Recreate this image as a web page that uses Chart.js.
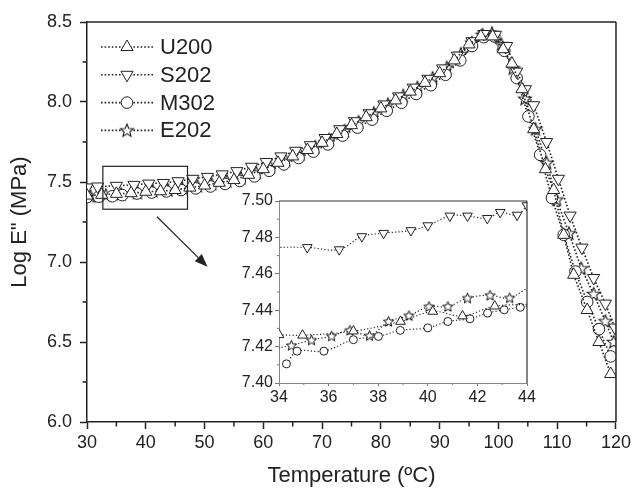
<!DOCTYPE html>
<html><head><meta charset="utf-8">
<script src="https://cdn.jsdelivr.net/npm/chart.js@4.4.0/dist/chart.umd.min.js"></script>
<style>
html,body{margin:0;padding:0;background:#fff;}
#wrap{position:relative;width:634px;height:489px;overflow:hidden;}
#main{position:absolute;left:0;top:0;}
#inset{position:absolute;left:220px;top:185px;}
</style></head><body>
<div id="wrap"><canvas id="main" width="634" height="489"></canvas><canvas id="inset" width="320" height="230"></canvas></div>
<script>
// ---------- data ----------
const seriesNames = ['U200', 'S202', 'M302', 'E202'];

const u200T = [30, 32.5, 35, 37.5, 40, 42.5, 45, 47.5, 50, 52.5, 55, 57.5, 60, 62.5, 65, 67.5, 70, 72.5, 75, 77.5, 80, 82.5, 85, 87.5, 90, 92.5, 95, 97, 99, 100.8, 102.3, 104, 106, 108, 109.4, 111.1, 112.8, 115.1, 117.1, 119.1];
const u200E = [7.415, 7.42, 7.426, 7.43, 7.439, 7.442, 7.45, 7.465, 7.478, 7.495, 7.512, 7.545, 7.58, 7.62, 7.66, 7.70, 7.745, 7.80, 7.855, 7.905, 7.96, 8.01, 8.065, 8.12, 8.18, 8.26, 8.36, 8.41, 8.41, 8.33, 8.24, 8.08, 7.83, 7.58, 7.45, 7.17, 6.92, 6.70, 6.50, 6.30];

const s202T = [30, 31.8, 35, 38, 40.5, 43, 45.5, 48, 50.5, 53, 55.5, 58, 60.5, 63, 65.5, 68, 70.5, 73, 75.5, 78, 80.5, 83, 85.5, 88, 90.5, 93, 95.5, 97.5, 99.5, 101.4, 103.1, 104.6, 106, 108.2, 110.2, 112.2, 114.2, 116.2, 118.2, 119.8];
const s202E = [7.466, 7.472, 7.476, 7.482, 7.49, 7.494, 7.505, 7.52, 7.532, 7.548, 7.568, 7.595, 7.625, 7.66, 7.695, 7.73, 7.775, 7.83, 7.88, 7.93, 7.985, 8.035, 8.09, 8.145, 8.21, 8.29, 8.38, 8.425, 8.42, 8.35, 8.19, 8.08, 7.98, 7.75, 7.52, 7.29, 7.09, 6.90, 6.74, 6.59];

const m302T = [30, 32, 34.3, 36, 38.5, 41, 43.5, 46, 48.5, 51, 53.5, 56, 58.5, 61, 63.5, 66, 68.5, 71, 73.5, 76, 78.5, 81, 83.5, 86, 88.5, 91, 93.5, 95.5, 97.5, 99.3, 101, 103.1, 105.1, 107.1, 109.1, 111.1, 113.1, 115.1, 117.1, 119.1];
const m302E = [7.405, 7.408, 7.411, 7.418, 7.428, 7.434, 7.441, 7.45, 7.46, 7.472, 7.488, 7.507, 7.535, 7.57, 7.61, 7.65, 7.69, 7.735, 7.79, 7.84, 7.89, 7.945, 7.995, 8.05, 8.105, 8.17, 8.26, 8.35, 8.405, 8.41, 8.32, 8.15, 7.91, 7.67, 7.40, 7.17, 6.94, 6.75, 6.58, 6.41];

const e202T = [30.6, 33.2, 35.8, 38.6, 41.2, 43.8, 46.2, 48.8, 51.2, 53.8, 56.2, 58.8, 61.2, 63.8, 66.2, 68.8, 71.2, 73.8, 76.2, 78.8, 81.2, 83.8, 86.2, 88.8, 91.2, 93.6, 95.5, 97.3, 98.9, 100.5, 102.5, 104.5, 106.3, 108.2, 109.9, 112, 114.1, 116.2, 118.2, 119.6];
const e202E = [7.41, 7.418, 7.424, 7.433, 7.444, 7.449, 7.462, 7.475, 7.488, 7.505, 7.525, 7.558, 7.595, 7.635, 7.675, 7.72, 7.765, 7.82, 7.875, 7.93, 7.985, 8.04, 8.09, 8.15, 8.215, 8.30, 8.37, 8.42, 8.43, 8.36, 8.21, 8.02, 7.83, 7.62, 7.39, 7.18, 6.96, 6.80, 6.63, 6.50];

// inset (34–44 °C)
const inU200T = [34.0, 34.95, 37.0, 38.9, 40.2, 41.4, 42.7, 44.4];
const inU200E = [7.4265, 7.4262, 7.4285, 7.4338, 7.4393, 7.4368, 7.4422, 7.4432];
const inS202T = [33.5, 35.14, 36.43, 37.34, 38.22, 39.32, 40.0, 40.89, 41.6, 42.4, 42.92, 43.6, 44.0];
const inS202E = [7.4745, 7.4745, 7.4733, 7.4805, 7.4823, 7.4838, 7.4865, 7.4918, 7.4918, 7.4905, 7.4938, 7.4923, 7.4975];
const inM302T = [34.3, 34.73, 35.81, 37.0, 38.01, 38.89, 40.0, 40.81, 41.7, 42.41, 43.08, 43.73, 44.4];
const inM302E = [7.4105, 7.4175, 7.4175, 7.4238, 7.4256, 7.4289, 7.4303, 7.4338, 7.4353, 7.4384, 7.4402, 7.4416, 7.4430];
const inE202T = [33.7, 34.5, 35.31, 36.12, 36.86, 37.65, 38.42, 39.24, 40.05, 40.81, 41.6, 42.51, 43.3, 44.4];
const inE202E = [7.4185, 7.4207, 7.4236, 7.4258, 7.429, 7.426, 7.4338, 7.437, 7.442, 7.442, 7.4467, 7.4482, 7.4468, 7.4560];

// ticks
const xTicks = [30, 40, 50, 60, 70, 80, 90, 100, 110, 120];
const xMinor = [35, 45, 55, 65, 75, 85, 95, 105, 115];
const yTicks = [6.0, 6.5, 7.0, 7.5, 8.0, 8.5];
const yMinor = [6.25, 6.75, 7.25, 7.75, 8.25];
const inXTicks = [34, 36, 38, 40, 42, 44];
const inXMinor = [35, 37, 39, 41, 43];
const inYTicks = [7.40, 7.42, 7.44, 7.46, 7.48, 7.50];
const inYMinor = [7.41, 7.43, 7.45, 7.47, 7.49];

// zoom box [xMin, xMax, yMin, yMax] and arrow [x0, y0, x1, y1] in data units
const zoomBox = [32.7, 47.1, 7.33, 7.598];
const arrowPts = [41.9, 7.283, 50.5, 6.97];

// ---------- styling ----------
const ink = '#222';
const FONT = '"Liberation Sans", Arial, Helvetica, sans-serif';
Chart.defaults.font.family = FONT;
Chart.defaults.color = ink;

function makeStar(R, r, lw) {
  const s = Math.ceil(2 * R + 2 * lw + 2);
  const c = document.createElement('canvas');
  c.width = s; c.height = s;
  const g = c.getContext('2d');
  g.translate(s / 2, s / 2 + 0.4);
  g.beginPath();
  for (let i = 0; i < 10; i++) {
    const rad = (i % 2 === 0) ? R : r;
    const a = -Math.PI / 2 + i * Math.PI / 5;
    const px = rad * Math.cos(a), py = rad * Math.sin(a);
    if (i === 0) g.moveTo(px, py); else g.lineTo(px, py);
  }
  g.closePath();
  g.fillStyle = '#fff'; g.fill();
  g.strokeStyle = '#111'; g.lineWidth = lw; g.stroke();
  return c;
}
const starMain = makeStar(6.8, 3.0, 1.05);
const starInset = makeStar(5.4, 2.4, 1.0);

const zip = (xs, ys) => xs.map((x, i) => ({x, y: ys[i]}));

function ds(label, xs, ys, style, radius, rot, lw, dash, tension) {
  return {
    label, data: zip(xs, ys),
    borderColor: ink, borderWidth: lw, borderDash: dash, tension: tension,
    pointStyle: style, pointRadius: radius, pointRotation: rot,
    pointBackgroundColor: '#fff', pointBorderColor: ink, pointBorderWidth: 1,
    clip: 0, fill: false
  };
}

// ---------- plugins ----------
function line(ctx, x0, y0, x1, y1) { ctx.beginPath(); ctx.moveTo(x0, y0); ctx.lineTo(x1, y1); ctx.stroke(); }

const mainDecor = {
  id: 'mainDecor',
  afterDraw(chart) {
    const {ctx, chartArea: a, scales: {x, y}} = chart;
    ctx.save();
    ctx.strokeStyle = ink; ctx.lineWidth = 1.5;
    // frame top & right
    line(ctx, a.left, a.top, a.right, a.top);
    line(ctx, a.right, a.top, a.right, a.bottom);
    // minor ticks
    xMinor.forEach(v => { const p = x.getPixelForValue(v); line(ctx, p, a.bottom, p, a.bottom + 4.5); });
    yMinor.forEach(v => { const p = y.getPixelForValue(v); line(ctx, a.left - 4.5, p, a.left, p); });
    // zoom box
    ctx.lineWidth = 1.2;
    const bx0 = x.getPixelForValue(zoomBox[0]), bx1 = x.getPixelForValue(zoomBox[1]);
    const by0 = y.getPixelForValue(zoomBox[3]), by1 = y.getPixelForValue(zoomBox[2]);
    ctx.strokeRect(bx0, by0, bx1 - bx0, by1 - by0);
    // arrow
    const ax0 = x.getPixelForValue(arrowPts[0]), ay0 = y.getPixelForValue(arrowPts[1]);
    const ax1 = x.getPixelForValue(arrowPts[2]), ay1 = y.getPixelForValue(arrowPts[3]);
    const ang = Math.atan2(ay1 - ay0, ax1 - ax0);
    const hl = 13, hw = 5;
    const bxh = ax1 - hl * Math.cos(ang), byh = ay1 - hl * Math.sin(ang);
    line(ctx, ax0, ay0, bxh, byh);
    ctx.fillStyle = ink;
    ctx.beginPath();
    ctx.moveTo(ax1, ay1);
    ctx.lineTo(bxh + hw * Math.sin(ang), byh - hw * Math.cos(ang));
    ctx.lineTo(bxh - hw * Math.sin(ang), byh + hw * Math.cos(ang));
    ctx.closePath(); ctx.fill();
    // legend
    chart.data.datasets.forEach((d, i) => {
      const ly = a.top + 25 + i * 27.8;
      ctx.strokeStyle = ink; ctx.lineWidth = 1.6; ctx.setLineDash([1.6, 2]);
      line(ctx, a.left + 14, ly, a.left + 66, ly);
      ctx.setLineDash([]);
      ctx.fillStyle = '#fff'; ctx.strokeStyle = ink; ctx.lineWidth = 1;
      Chart.helpers.drawPoint(ctx, {pointStyle: d.pointStyle, radius: d.pointRadius, rotation: d.pointRotation || 0, borderWidth: 1}, a.left + 40, ly);
      ctx.fillStyle = ink; ctx.font = '22px ' + FONT; ctx.textBaseline = 'middle'; ctx.textAlign = 'left';
      ctx.fillText(d.label, a.left + 73, ly + 1);
    });
    ctx.restore();
  }
};

const insetDecor = {
  id: 'insetDecor',
  afterDraw(chart) {
    const {ctx, chartArea: a, scales: {x, y}} = chart;
    ctx.save();
    ctx.strokeStyle = '#333'; ctx.lineWidth = 1.2;
    line(ctx, a.left, a.top, a.right, a.top);
    line(ctx, a.right, a.top, a.right, a.bottom);
    ctx.strokeStyle = '#777'; ctx.lineWidth = 1;
    inXMinor.forEach(v => { const p = x.getPixelForValue(v); line(ctx, p, a.bottom, p, a.bottom + 2); });
    inYMinor.forEach(v => { const p = y.getPixelForValue(v); line(ctx, a.left - 2, p, a.left, p); });
    ctx.restore();
  }
};

// ---------- main chart ----------
const mainDash = [1.6, 2];
new Chart(document.getElementById('main'), {
  type: 'line',
  data: {
    datasets: [
      ds(seriesNames[0], u200T, u200E, 'triangle', 7, 0, 1.6, mainDash, 0),
      ds(seriesNames[1], s202T, s202E, 'triangle', 7, 180, 1.6, mainDash, 0),
      ds(seriesNames[2], m302T, m302E, 'circle', 5.8, 0, 1.6, mainDash, 0),
      ds(seriesNames[3], e202T, e202E, starMain, 6, 0, 1.6, mainDash, 0)
    ]
  },
  options: {
    responsive: false, animation: false, devicePixelRatio: 1,
    layout: {padding: {top: 22, right: 18, left: 0, bottom: 0}},
    plugins: {legend: {display: false}, tooltip: {enabled: false}},
    scales: {
      x: {
        type: 'linear', min: 30, max: 120,
        afterBuildTicks: s => { s.ticks = xTicks.map(v => ({value: v})); },
        afterFit: s => { s.height = 67; },
        ticks: {font: {size: 18}, color: ink, padding: 3, maxRotation: 0, callback: v => String(v)},
        grid: {drawOnChartArea: false, drawTicks: true, tickLength: 7, tickColor: ink, tickWidth: 1.5},
        border: {display: true, color: ink, width: 1.5},
        title: {display: true, text: 'Temperature (ºC)', font: {size: 22}, color: ink, padding: {top: 0, bottom: 0}}
      },
      y: {
        type: 'linear', min: 6.0, max: 8.5,
        afterBuildTicks: s => { s.ticks = yTicks.map(v => ({value: v})); },
        afterFit: s => { s.width = 87; },
        ticks: {font: {size: 18}, color: ink, padding: 8, callback: v => v.toFixed(1)},
        grid: {drawOnChartArea: false, drawTicks: true, tickLength: 7, tickColor: ink, tickWidth: 1.5},
        border: {display: true, color: ink, width: 1.5},
        title: {display: true, text: 'Log E" (MPa)', font: {size: 22}, color: ink, padding: {top: 7, bottom: 0}}
      }
    }
  },
  plugins: [mainDecor]
});

// ---------- inset chart ----------
const inDash = [1.2, 2.2];
new Chart(document.getElementById('inset'), {
  type: 'line',
  data: {
    datasets: [
      ds(seriesNames[0], inU200T, inU200E, 'triangle', 5.6, 0, 1.2, inDash, 0.35),
      ds(seriesNames[1], inS202T, inS202E, 'triangle', 5.6, 180, 1.2, inDash, 0.35),
      ds(seriesNames[2], inM302T, inM302E, 'circle', 4, 0, 1.2, inDash, 0.35),
      ds(seriesNames[3], inE202T, inE202E, starInset, 5, 0, 1.2, inDash, 0.35)
    ]
  },
  options: {
    responsive: false, animation: false, devicePixelRatio: 1,
    layout: {padding: {top: 16, right: 13, left: 0, bottom: 0}},
    plugins: {legend: {display: false}, tooltip: {enabled: false}},
    scales: {
      x: {
        type: 'linear', min: 34, max: 44,
        afterBuildTicks: s => { s.ticks = inXTicks.map(v => ({value: v})); },
        afterFit: s => { s.height = 32; },
        ticks: {font: {size: 16}, color: ink, padding: 2, maxRotation: 0, callback: v => String(v)},
        grid: {drawOnChartArea: false, drawTicks: true, tickLength: 3, tickColor: '#777', tickWidth: 1},
        border: {display: true, color: '#888', width: 1}
      },
      y: {
        type: 'linear', min: 7.40, max: 7.50,
        afterBuildTicks: s => { s.ticks = inYTicks.map(v => ({value: v})); },
        afterFit: s => { s.width = 59; },
        ticks: {font: {size: 16}, color: ink, padding: 2, callback: v => v.toFixed(2)},
        grid: {drawOnChartArea: false, drawTicks: true, tickLength: 4, tickColor: '#777', tickWidth: 1},
        border: {display: true, color: '#888', width: 1}
      }
    }
  },
  plugins: [insetDecor]
});
</script>
</body></html>
